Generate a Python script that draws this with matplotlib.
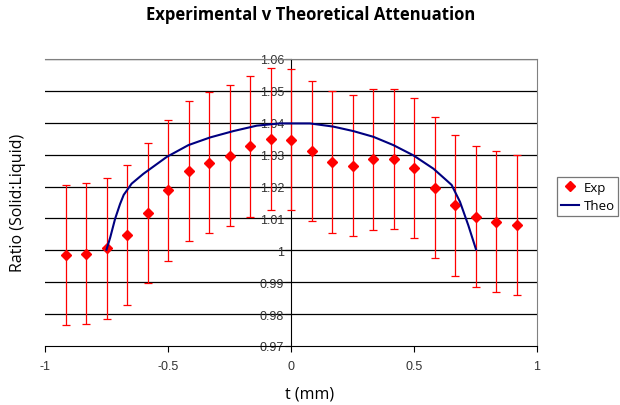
import numpy as np
import matplotlib; matplotlib.use("Agg")
import matplotlib.pyplot as plt
from matplotlib.lines import Line2D

# experimental points (t in mm, ratio, error)
t_exp = [-11/12, -10/12, -9/12, -8/12, -7/12, -6/12, -5/12, -4/12, -3/12, -2/12, -1/12, 0,
         1/12, 2/12, 3/12, 4/12, 5/12, 6/12, 7/12, 8/12, 9/12, 10/12, 11/12]
r_exp = [0.9985, 0.9989, 1.0006, 1.0048, 1.0117, 1.0188, 1.0248, 1.0275, 1.0296, 1.0326, 1.0350, 1.0347,
         1.0311, 1.0277, 1.0266, 1.0285, 1.0287, 1.0259, 1.0197, 1.0141, 1.0106, 1.0090, 1.0080]
err_exp = [0.0219, 0.0221, 0.0222, 0.0220, 0.0221, 0.0221, 0.0220, 0.0221, 0.0221, 0.0221, 0.0222, 0.0222,
           0.0220, 0.0222, 0.0220, 0.0220, 0.0220, 0.0220, 0.0221, 0.0220, 0.0221, 0.0221, 0.0220]

# theoretical curve
t_theo = [-0.75, -0.735, -0.715, -0.695, -0.680, -0.667, -0.648, -0.600, -0.505, -0.417, -0.329, -0.234,
          -0.139, -0.045, 0.077, 0.172, 0.253, 0.335, 0.416, 0.497, 0.579, 0.630, 0.653, 0.687, 0.721, 0.752]
r_theo = [1.0002, 1.0040, 1.0099, 1.0145, 1.0174, 1.0188, 1.0209, 1.0240, 1.0293, 1.0330, 1.0354, 1.0374,
          1.0391, 1.0398, 1.0398, 1.0388, 1.0374, 1.0356, 1.0330, 1.0298, 1.0256, 1.0221, 1.0205, 1.0152,
          1.0078, 1.0003]

plt.rcParams['font.family'] = ['Liberation Sans', 'DejaVu Sans']
lab_font = ['Open Sans', 'DejaVu Sans']

fig = plt.figure(figsize=(6.2, 4.06), dpi=100)
ax = fig.add_axes([45/620, 59/406, 492/620, 287/406])

for y in np.arange(0.98, 1.0601, 0.01):
    ax.axhline(y, color="black", lw=0.9, zorder=1)

ax.errorbar(t_exp, r_exp, yerr=err_exp, fmt="D", color="red", ms=5.5, ecolor="red",
            elinewidth=0.9, capsize=3, capthick=0.9, zorder=3)
ax.plot(t_theo, r_theo, color="#000080", lw=1.5, zorder=4)

ax.set_xlim(-1, 1); ax.set_ylim(0.97, 1.06)
ax.set_xticks([-1, -0.5, 0, 0.5, 1]); ax.set_xticklabels(["-1", "-0.5", "0", "0.5", "1"])
yt = np.round(np.arange(0.97, 1.0601, 0.01), 2)
ax.set_yticks(yt); ax.set_yticklabels([f"{v:g}" for v in yt])
ax.spines["left"].set_position(("data", 0))
ax.spines["left"].set_color("black")
ax.spines["bottom"].set_color("black")
for s in ("top", "right"):
    ax.spines[s].set_color("#808080")
ax.tick_params(direction="out", length=4, width=0.8, labelsize=9, colors="black", labelcolor="#333333")
ax.tick_params(axis="x", pad=6)
ax.tick_params(axis="y", pad=1)

fig.text(310/620, 1 - 395/406, "t (mm)", ha="center", va="center", fontsize=11.5, family=lab_font)
fig.text(18/620, 1 - 203/406, "Ratio (Solid:Liquid)", rotation=90, ha="center", va="center",
         fontsize=11.5, family=lab_font)
fig.text(311/620, 1 - 15/406, "Experimental v Theoretical Attenuation", ha="center", va="center",
         fontsize=12, fontweight="bold", family=lab_font)

h = [Line2D([], [], ls="none", marker="D", color="red", ms=5.5),
     Line2D([], [], color="#000080", lw=1.5)]
leg = fig.legend(h, ["Exp", "Theo"], loc="upper left", bbox_to_anchor=(557/620, 1 - 178/406),
                 prop={"family": lab_font, "size": 9.5}, frameon=True, fancybox=False,
                 edgecolor="#555555", handlelength=1.4, borderpad=0.3, labelspacing=0.4,
                 handletextpad=0.3, borderaxespad=0)
leg.get_frame().set_linewidth(0.9)

fig.savefig("out.png", dpi=100)
